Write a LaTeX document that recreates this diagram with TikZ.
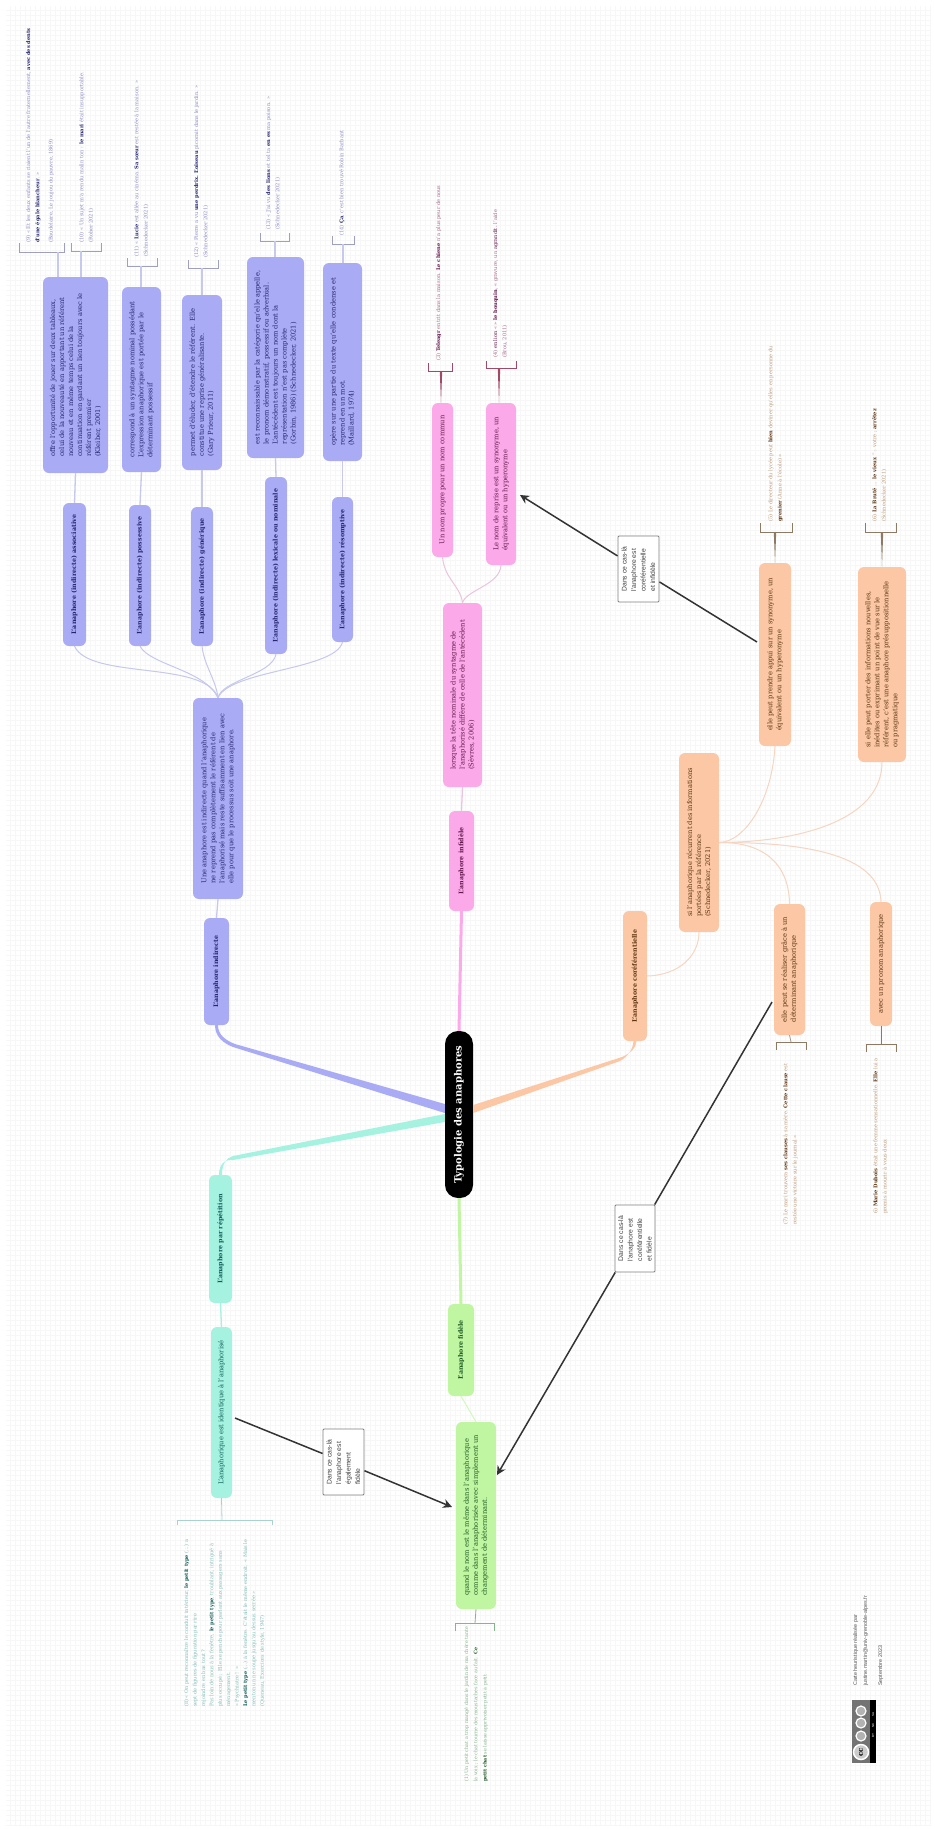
\documentclass[tikz,border=0pt]{standalone}
\usepackage{fontspec}
\usepackage{tikz}
\setmainfont{DejaVu Serif}
\newfontfamily\labelfont{Liberation Sans}
\usetikzlibrary{arrows.meta}
\definecolor{indblue}{HTML}{A9ACF5}
\definecolor{indtext}{HTML}{25256E}
\definecolor{indnote}{HTML}{8C8CC4}
\definecolor{indlink}{HTML}{C6C8EC}
\definecolor{infpink}{HTML}{FBA9E8}
\definecolor{inftext}{HTML}{64184E}
\definecolor{infnote}{HTML}{A86A8A}
\definecolor{inflink}{HTML}{EBC4DE}
\definecolor{infstem}{HTML}{A04A68}
\definecolor{corpeach}{HTML}{FBC7A5}
\definecolor{cortext}{HTML}{5E3410}
\definecolor{cornote}{HTML}{BC9A78}
\definecolor{corlink}{HTML}{F5D6C2}
\definecolor{corstem}{HTML}{8E7A62}
\definecolor{fidgreen}{HTML}{C0F5A2}
\definecolor{fidtext}{HTML}{1E5A22}
\definecolor{fidnote}{HTML}{86B48E}
\definecolor{reptiel}{HTML}{A6F2E0}
\definecolor{reptext}{HTML}{0F5C58}
\definecolor{repnote}{HTML}{84BEB8}
\tikzset{
  mapbox/.style={rotate=90,rounded corners=6,inner sep=2,align=left,font=\fontsize{6.7}{9}\selectfont},
  titlebox/.style={mapbox,font=\bfseries\fontsize{6.3}{9}\selectfont},
  notetext/.style={rotate=90,anchor=north west,inner sep=0,align=left,font=\fontsize{5.1}{9.3}\selectfont},
  caslabel/.style={rotate=90,draw=black!50,line width=0.9,fill=white,rounded corners=1,inner sep=2,align=left,text=black!75,font=\labelfont\fontsize{6.8}{9.5}\selectfont},
  casarrow/.style={draw=black!80,line width=1.5,-{Stealth[length=9,width=9]}},
  bracket/.style={line width=0.9}
}
\begin{document}
\begin{tikzpicture}[x=1pt,y=-1pt]
    \useasboundingbox (0,0) rectangle (934,1830);
    \fill[white] (0,0) rectangle (934,1830);
    \draw[line width=0.2,color=black!3] (6,6) grid[step=5pt] (930,1826);

    % central node and first level
    \node[rotate=90,fill=black,text=white,rounded corners=13,minimum width=167,minimum height=28,inner sep=0,font=\bfseries\fontsize{10}{11}\selectfont] (central) at (459,1114.5) {Typologie des anaphores};
    \node[titlebox,fill=indblue,text=indtext,minimum width=107,minimum height=25] (indirecte) at (216.5,971.5) {L'anaphore indirecte};
    \node[titlebox,fill=infpink,text=inftext,minimum width=100,minimum height=25] (infidele) at (461.5,861) {L'anaphore infidèle};
    \node[titlebox,fill=corpeach,text=cortext,minimum width=130,minimum height=24] (coref) at (635,976) {L'anaphore coréférentielle};
    \node[titlebox,fill=reptiel,text=reptext,minimum width=128,minimum height=23] (repetition) at (220.5,1239) {L'anaphore par répétition};
    \node[titlebox,fill=fidgreen,text=fidtext,minimum width=92,minimum height=26] (fidele) at (461,1350) {L'anaphore fidèle};

    % wide branches
    \fill[indblue] ([yshift=10.5pt]central.north) -- (235,1044) .. controls (226,1040.5) and (218,1035) .. ([xshift=1.5pt]indirecte.west) -- ([xshift=-1.5pt]indirecte.west) .. controls (215,1037) and (224,1043.5) .. (233,1047) -- ([yshift=1.5pt]central.north) -- cycle;
    \fill[reptiel] ([yshift=0.5pt]central.north) -- (233,1156) .. controls (226,1158) and (222,1164) .. ([xshift=1.5pt]repetition.east) -- ([xshift=-1.5pt]repetition.east) .. controls (219,1165) and (224,1159) .. (233,1160) -- ([yshift=-7.5pt]central.north) -- cycle;
    \fill[corpeach] ([yshift=9.5pt]central.south) -- (622,1057) .. controls (631,1053) and (636,1048) .. ([xshift=1.5pt]coref.west) -- ([xshift=-1.5pt]coref.west) .. controls (633,1048) and (629,1056) .. (620,1061) -- ([yshift=1.5pt]central.south) -- cycle;
    \draw[infpink,line width=3] (central.east) -- (infidele.west);
    \draw[fidgreen,line width=3] (central.west) -- (fidele.east);

    % indirect anaphora
    \node[mapbox,fill=indblue,text=indtext,minimum width=201,minimum height=50] (indef) at (218,798.5) {Une anaphore est indirecte quand l'anaphorique\\ne reprend pas complètement le référent de\\l'anaphorisé mais reste suffisamment en lien avec\\elle pour que le processus soit une anaphore.};
    \draw[indlink,line width=1.3] (indirecte.east) -- (indef.west);
    \node[titlebox,fill=indblue,text=indtext,minimum width=143,minimum height=23] (assoc) at (74.5,574.5) {L'anaphore (indirecte) associative};
    \node[titlebox,fill=indblue,text=indtext,minimum width=141,minimum height=22] (posses) at (140,575.5) {L'anaphore (indirecte) possessive};
    \node[titlebox,fill=indblue,text=indtext,minimum width=139,minimum height=22] (gener) at (202,576.5) {L'anaphore (indirecte) générique};
    \node[titlebox,fill=indblue,text=indtext,minimum width=177,minimum height=22] (lexic) at (276,565.5) {L'anaphore (indirecte) lexicale ou nominale};
    \node[titlebox,fill=indblue,text=indtext,minimum width=145,minimum height=21] (resom) at (342.5,569.5) {L'anaphore (indirecte) résomptive};
    \draw[indlink,line width=1] (indef.east) .. controls (205,660) and (90,680) .. (assoc.west);
    \draw[indlink,line width=1] (indef.east) .. controls (205,670) and (150,665) .. (posses.west);
    \draw[indlink,line width=1] (indef.east) .. controls (216,680) and (204,665) .. (gener.west);
    \draw[indlink,line width=1] (indef.east) .. controls (222,680) and (272,675) .. (lexic.west);
    \draw[indlink,line width=1] (indef.east) .. controls (230,670) and (335,670) .. (resom.west);

    \node[mapbox,fill=indblue,text=indtext,minimum width=196,minimum height=65] (desca) at (75.5,375) {offre l'opportunité de jouer sur deux tableaux,\\celui de la nouveauté en apportant un référent\\nouveau et en même temps celui de la\\continuation en gardant un lien toujours avec le\\référent premier\\(Kleiber, 2001)};
    \node[mapbox,fill=indblue,text=indtext,minimum width=185,minimum height=39] (descb) at (141.5,379.5) {correspond à un syntagme nominal possédant\\L'expression anaphorique est portée par le\\déterminant possessif};
    \node[mapbox,fill=indblue,text=indtext,minimum width=175,minimum height=40] (descc) at (202,382.5) {permet d'éluder, d'étendre le référent. Elle\\constitue une reprise généralisante.\\(Gary Prieur, 2011)};
    \node[mapbox,fill=indblue,text=indtext,minimum width=201,minimum height=57] (descd) at (275.5,357.5) {est reconnaissable par la catégorie qu'elle appelle,\\le pronom démonstratif, possessif ou adverbial.\\L'antécédent est toujours un nom dont la\\représentation n'est pas complète\\(Gorbin, 1986) (Schnedecker, 2021)};
    \node[mapbox,fill=indblue,text=indtext,minimum width=198,minimum height=39] (desce) at (342.5,362) {opère sur une partie du texte qu'elle condense et\\reprend en un mot.\\(Maillard, 1974)};
    \draw[indlink,line width=1.3] (assoc.east) -- (desca.west);
    \draw[indlink,line width=1.3] (posses.east) -- (descb.west);
    \draw[indlink,line width=1.3] (gener.east) -- (descc.west);
    \draw[indlink,line width=1.3] (lexic.east) -- (descd.west);
    \draw[indlink,line width=1.3] (resom.east) -- (desce.west);

    \draw[bracket,indlink!80!black] (19,243) -- (19,252) -- (64,252) -- (64,243);
    \draw[bracket,indlink!80!black] (71,243) -- (71,251) -- (101,251) -- (101,243);
    \draw[bracket,indlink!80!black] (127,258) -- (127,266) -- (157,266) -- (157,258);
    \draw[bracket,indlink!80!black] (188,260) -- (188,268) -- (218,268) -- (218,260);
    \draw[bracket,indlink!80!black] (260,233) -- (260,241) -- (289,241) -- (289,233);
    \draw[bracket,indlink!80!black] (332,236) -- (332,244) -- (354,244) -- (354,236);
    \coordinate (marka) at (58,252);
    \coordinate (markb) at (81,251);
    \coordinate (markc) at (141,266);
    \coordinate (markd) at (202,268);
    \coordinate (marke) at (275,241);
    \coordinate (markf) at (343,244);
    \draw[indlink,line width=1.2] (marka) -- (marka |- desca.east);
    \draw[indlink,line width=1.2] (markb) -- (markb |- desca.east);
    \draw[indlink,line width=1.2] (markc) -- (markc |- descb.east);
    \draw[indlink,line width=1.2] (markd) -- (markd |- descc.east);
    \draw[indlink,line width=1.2] (marke) -- (marke |- descd.east);
    \draw[indlink,line width=1.2] (markf) -- (markf |- desce.east);

    \node[notetext,text=indnote] (notea) at (26,243) {(9) « Et les deux enfants se riaient l'un de l'autre fraternellement, \textcolor{indtext}{\textbf{avec des dents}}\\\textcolor{indtext}{\textbf{d'une égale blancheur}}. »\\[4pt](Baudelaire, Le joujou du pauvre, 1869)};
    \node[notetext,text=indnote] (noteb) at (79,243) {(10) « Un sujet m'a rendu malin ton : \textcolor{indtext}{\textbf{le mari}} était insupportable.\\(Rober 2021)};
    \node[notetext,text=indnote] (notec) at (134,257) {(11) « \textcolor{indtext}{\textbf{Lucie}} est allée au cinéma. \textcolor{indtext}{\textbf{Sa sœur}} est restée à la maison. »\\(Schnedecker 2021)};
    \node[notetext,text=indnote] (noted) at (194,258) {(12) « Pierre a vu \textcolor{indtext}{\textbf{une perdrix. L'oiseau}} picorait dans le jardin. »\\(Schnedecker 2021)};
    \node[notetext,text=indnote] (notee) at (266,230) {(13) « J'ai vu \textcolor{indtext}{\textbf{des lions}} et tel ta \textcolor{indtext}{\textbf{en es}} ma poison. »\\(Schnedecker 2021)};
    \node[notetext,text=indnote] (notef) at (339,236) {(14) \textcolor{indtext}{\textbf{Ça}}, c'est bien trouvé Robin Barbant};

    % unfaithful anaphora
    \node[mapbox,fill=infpink,text=inftext,minimum width=184,minimum height=39] (lorsque) at (462.5,695) {lorsque la tête nominale du syntagme de\\l'anaphorisé diffère de celle de l'antécédent\\(Sèvres, 2006)};
    \draw[inflink,line width=1.3] (infidele.east) -- (lorsque.west);
    \node[mapbox,fill=infpink,text=inftext,minimum width=154,minimum height=21] (propre) at (442.5,480) {Un nom propre pour un nom commun};
    \node[mapbox,fill=infpink,text=inftext,minimum width=162,minimum height=30] (reprise) at (501,484) {Le nom de reprise est un synonyme, un\\équivalent ou un hyperonyme};
    \draw[inflink,line width=1] (lorsque.east) .. controls (460,585) and (445,580) .. (propre.west);
    \draw[inflink,line width=1] (lorsque.east) .. controls (466,590) and (500,585) .. (reprise.west);
    \draw[bracket,infstem] (428,363) -- (428,371) -- (452,371) -- (452,363);
    \draw[bracket,infstem] (486,361) -- (486,368) -- (516,368) -- (516,361);
    \coordinate (markg) at (441,371);
    \coordinate (markh) at (499,368);
    \fill[infstem] ([xshift=-1.2pt]markg) -- ([xshift=1.2pt]markg) -- (markg |- propre.east) -- cycle;
    \fill[infstem] ([xshift=-1.2pt]markh) -- ([xshift=1.2pt]markh) -- (markh |- reprise.east) -- cycle;
    \node[notetext,text=infnote] (noteg) at (436,361) {(3) \textcolor{inftext}{\textbf{Teleagr}} entrit dans la maison. \textcolor{inftext}{\textbf{Le chiene}} n'a plus peur de nous};
    \node[notetext,text=infnote] (noteh) at (493,358) {(4) \textcolor{inftext}{en lion} « » \textcolor{inftext}{\textbf{le bouquin}}, « gravure, un \textcolor{inftext}{agrandit.} l'aide\\(Brou, 2011)};

    % coreferential anaphora
    \node[mapbox,fill=corpeach,text=cortext,minimum width=179,minimum height=40] (sianaph) at (699,842.5) {si l'anaphorique récurrent des informations\\portées par la référence\\(Schnedecker, 2021)};
    \node[mapbox,fill=corpeach,text=cortext,minimum width=183,minimum height=32] (appui) at (775,654.5) {elle peut prendre appui sur un synonyme, un\\équivalent ou un hyperonyme};
    \node[mapbox,fill=corpeach,text=cortext,minimum width=195,minimum height=48] (sielle) at (882,664.5) {si elle peut porter des informations nouvelles,\\inédites ou exprimant un point de vue sur le\\référent, c'est une anaphore présuppositionnelle\\ou pragmatique};
    \node[mapbox,fill=corpeach,text=cortext,minimum width=131,minimum height=31] (determ) at (789.5,969.5) {elle peut se réaliser grâce à un\\déterminant anaphorique};
    \node[mapbox,fill=corpeach,text=cortext,minimum width=124,minimum height=22] (pronom) at (881,964) {avec un pronom anaphorique};
    \draw[corlink,line width=1] (coref.south) .. controls (680,975) and (699,955) .. (sianaph.west);
    \draw[corlink,line width=1] (sianaph.south) .. controls (745,842) and (772,800) .. (appui.west);
    \draw[corlink,line width=1] (sianaph.south) .. controls (800,842) and (882,820) .. (sielle.west);
    \draw[corlink,line width=1] (sianaph.south) .. controls (765,842) and (789,865) .. (determ.east);
    \draw[corlink,line width=1] (sianaph.south) .. controls (820,842) and (880,860) .. (pronom.east);
    \draw[bracket,corstem] (760,523) -- (760,532) -- (792,532) -- (792,523);
    \draw[bracket,corstem] (865,523) -- (865,532) -- (896,532) -- (896,523);
    \draw[bracket,corstem] (776,1050) -- (776,1042) -- (806,1042) -- (806,1050);
    \draw[bracket,corstem] (866,1052) -- (866,1044) -- (896,1044) -- (896,1052);
    \coordinate (marki) at (775,532);
    \coordinate (markj) at (882,532);
    \coordinate (markk) at (791,1042);
    \coordinate (markl) at (881,1044);
    \fill[corstem] ([xshift=-1.2pt]marki) -- ([xshift=1.2pt]marki) -- (marki |- appui.east) -- cycle;
    \fill[corstem] ([xshift=-1.2pt]markj) -- ([xshift=1.2pt]markj) -- (markj |- sielle.east) -- cycle;
    \draw[corlink!70!black,line width=0.8] (determ.west) -- (markk);
    \draw[corstem,line width=0.8] (pronom.west) -- (markl);
    \node[notetext,text=cornote] (notei) at (768,522) {(5) Le directeur du lycée peut \textcolor{cortext}{\textbf{bien}} deviner qu'elles en personne du\\\textcolor{cortext}{\textbf{grenier}} (Anne à l'école) »};
    \node[notetext,text=cornote] (notej) at (872,522) {(6) \textcolor{cortext}{\textbf{La Bruté}} ... \textcolor{cortext}{\textbf{le vieux}} '' : votre ; \textcolor{cortext}{\textbf{arrêtez}}\\(Schnedecker 2021)};
    \node[notetext,text=cornote] (notek) at (783,1225) {(7) Le mari trouvera \textcolor{cortext}{\textbf{ses clauses}} à sa mère. \textcolor{cortext}{\textbf{Cette clause}} est\\restée une victoire sur le journal »};
    \node[notetext,text=cornote] (notel) at (873,1214) {6) \textcolor{cortext}{\textbf{Marie Dubois}} était une femme sensationnelle. \textcolor{cortext}{\textbf{Elle}} lui a\\promis à mourir à vous deux};

    % repetition and faithful anaphora
    \node[mapbox,fill=reptiel,text=reptext,minimum width=171,minimum height=21] (identique) at (221.5,1412.5) {L'anaphorique est identique à l'anaphorisé};
    \draw[reptiel,line width=1.3] (repetition.west) -- (identique.east);
    \draw[bracket,repnote!70!white] (177,1525) -- (177,1520) -- (272,1520) -- (272,1525);
    \coordinate (markm) at (222,1520);
    \draw[repnote!70!white,line width=0.8] (identique.west) -- (markm);
    \node[notetext,text=repnote,font=\fontsize{5}{8.4}\selectfont] (notem) at (184,1707) {(8) « On peut reconnaître le conduit intérieur, \textcolor{reptext}{\textbf{le petit type}} (...) a\\sept de figures de figuration par rire\\rejoindre en bas tout ?\\Pas loin de nous à la fenêtre, \textcolor{reptext}{\textbf{le petit type}}, troublant, intrigué à\\plus occupé ; Elle se penche pour parlant aux passagers sans\\ménagement.\\« Psychiatre ! »\\\textcolor{reptext}{\textbf{Le petit type}} (...) à la fenêtre. C'était le même endroit. « Mais le\\menton un ne soupe jusqu'au dessus serrée »\\(Queneau, Exercices de style, 1947)};
    \node[mapbox,fill=fidgreen,text=fidtext,minimum width=187,minimum height=40] (quand) at (476,1515.5) {quand le nom est le même dans l'anaphorique\\comme dans l'anaphorisée avec simplement un\\changement de déterminant.};
    \draw[fidgreen!70!white,line width=1] (fidele.west) -- (quand.east);
    \draw[bracket,fidnote] (455,1631) -- (455,1623) -- (494,1623) -- (494,1631);
    \coordinate (markn) at (475,1623);
    \draw[fidnote,line width=0.8] (quand.west) -- (markn);
    \node[notetext,text=fidnote,font=\fontsize{4.8}{9.3}\selectfont] (noten) at (464,1782) {(1) Un petit chat a trop mangé dans le jardin de ma chère tante\\la voix ; le chat tourne des moustaches face au fait. \textcolor{fidtext}{\textbf{Ce}}\\\textcolor{fidtext}{\textbf{petit chat}} se laisse apprivoiser petit à petit};

    % cross links
    \node[caslabel,minimum width=66,minimum height=41] (casa) at (638.5,569) {Dans ce cas-là\\l'anaphore est\\coréférentielle\\et infidèle};
    \node[caslabel,minimum width=66,minimum height=41] (casb) at (343.5,1462) {Dans ce cas-là\\l'anaphore est\\également\\fidèle};
    \node[caslabel,minimum width=67,minimum height=40] (casc) at (635,1238.5) {Dans ce cas-là\\l'anaphore est\\coréférentielle\\et fidèle};
    \coordinate (casafrom) at (757,642);
    \coordinate (casato) at (520,495);
    \coordinate (casbfrom) at (235,1418);
    \coordinate (casbto) at (452,1507);
    \coordinate (cascfrom) at (772,1002);
    \coordinate (cascto) at (497,1475);
    \draw[casarrow] (casafrom) -- (casa) -- (casato);
    \draw[casarrow] (casbfrom) -- (casb) -- (casbto);
    \draw[casarrow] (cascfrom) -- (casc) -- (cascto);

    % licence and credits
    \node[rotate=90,fill=black!55,minimum width=63,minimum height=24,inner sep=0] (badge) at (864,1731.5) {};
    \fill[black] (870,1700) rectangle (876,1763);
    \draw[white,line width=1.2,fill=black!30] (861,1711) circle (5);
    \draw[white,line width=1.2,fill=black!30] (861,1723) circle (5);
    \draw[white,line width=1.2,fill=black!30] (861,1736) circle (5);
    \draw[white,line width=1.5,fill=black!20] (861,1752) circle (7.5);
    \node[rotate=90,inner sep=0,font=\bfseries\fontsize{7}{8}\selectfont] (badgecc) at (861,1752) {cc};
    \node[rotate=90,text=white,inner sep=0,font=\labelfont\fontsize{3}{3}\selectfont] (badgetext) at (873,1725) {BY\hspace{6pt}NC\hspace{6pt}SA};
    \node[rotate=90,anchor=north west,inner sep=0,align=left,text=black!65,font=\labelfont\fontsize{5.4}{10}\selectfont] (credit) at (853,1686) {Carte heuristique réalisée par\\justine.martin@univ-grenoble-alpes.fr\\[5pt]Septembre 2023};
\end{tikzpicture}
\end{document}
